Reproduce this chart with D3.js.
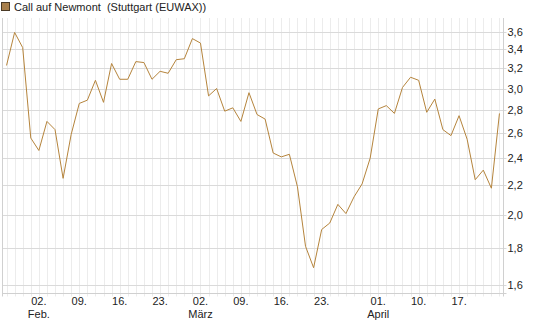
<!DOCTYPE html>
<html>
<head>
<meta charset="utf-8">
<script src="https://cdn.jsdelivr.net/npm/d3@7"></script>
<style>
  body { margin: 0; background: #fff; }
  svg { display: block; font-family: "Liberation Sans", Arial, sans-serif; }
</style>
</head>
<body>
<div id="chart"></div>
<script>
const seriesName = 'Call auf Newmont  (Stuttgart (EUWAX))';

// trading days only (no weekends, no Easter holidays)
const dates = [
    '2026-01-27', '2026-01-28', '2026-01-29', '2026-01-30',
    '2026-02-02', '2026-02-03', '2026-02-04', '2026-02-05', '2026-02-06',
    '2026-02-09', '2026-02-10', '2026-02-11', '2026-02-12', '2026-02-13',
    '2026-02-16', '2026-02-17', '2026-02-18', '2026-02-19', '2026-02-20',
    '2026-02-23', '2026-02-24', '2026-02-25', '2026-02-26', '2026-02-27',
    '2026-03-02', '2026-03-03', '2026-03-04', '2026-03-05', '2026-03-06',
    '2026-03-09', '2026-03-10', '2026-03-11', '2026-03-12', '2026-03-13',
    '2026-03-16', '2026-03-17', '2026-03-18', '2026-03-19', '2026-03-20',
    '2026-03-23', '2026-03-24', '2026-03-25', '2026-03-26', '2026-03-27',
    '2026-03-30', '2026-03-31',
    '2026-04-01', '2026-04-02', '2026-04-07', '2026-04-08', '2026-04-09', '2026-04-10',
    '2026-04-13', '2026-04-14', '2026-04-15', '2026-04-16', '2026-04-17',
    '2026-04-20', '2026-04-21', '2026-04-22', '2026-04-23', '2026-04-24'
];

const prices = [
    3.23, 3.59, 3.42, 2.56,
    2.46, 2.70, 2.63, 2.25, 2.59,
    2.86, 2.89, 3.08, 2.87, 3.25,
    3.09, 3.09, 3.27, 3.26, 3.09,
    3.17, 3.15, 3.29, 3.30, 3.52,
    3.47, 2.93, 3.00, 2.79, 2.82,
    2.70, 2.96, 2.76, 2.72, 2.44,
    2.41, 2.43, 2.19, 1.81, 1.69,
    1.91, 1.95, 2.07, 2.01, 2.12,
    2.21, 2.40,
    2.81, 2.84, 2.77, 3.01, 3.11, 3.08,
    2.78, 2.90, 2.63, 2.58, 2.75,
    2.55, 2.24, 2.31, 2.18, 2.77
];

const yTicks = [1.6, 1.8, 2.0, 2.2, 2.4, 2.6, 2.8, 3.0, 3.2, 3.4, 3.6];
const xTickDates = ['2026-02-02', '2026-02-09', '2026-02-16', '2026-02-23', '2026-03-02', '2026-03-09',
    '2026-03-16', '2026-03-23', '2026-04-01', '2026-04-10', '2026-04-17'];
const monthLabels = { '2026-02-02': 'Feb.', '2026-03-02': 'März', '2026-04-01': 'April' };

function drawChart() {
    const width = 545, height = 327;
    const left = 2.5, right = 503.5, top = 18, bottom = 293.5;

    const svg = d3.select('#chart').append('svg')
        .attr('width', width)
        .attr('height', height);

    const x = d3.scalePoint()
        .domain(dates)
        .range([left, right])
        .padding(0.5);

    const y = d3.scaleLog()
        .domain([1.556, 3.76])
        .range([bottom, top]);

    // vertical grid, one line per trading day
    svg.append('g')
        .selectAll('line')
        .data(dates)
        .enter()
        .append('line')
        .attr('x1', d => Math.round(x(d)) + 0.5)
        .attr('x2', d => Math.round(x(d)) + 0.5)
        .attr('y1', top)
        .attr('y2', bottom + 3)
        .attr('stroke', '#ececec');

    // horizontal grid
    svg.append('g')
        .selectAll('line')
        .data(yTicks)
        .enter()
        .append('line')
        .attr('x1', left)
        .attr('x2', right + 3)
        .attr('y1', d => Math.round(y(d)) + 0.5)
        .attr('y2', d => Math.round(y(d)) + 0.5)
        .attr('stroke', '#dadada');

    // frame
    svg.append('line')
        .attr('x1', left).attr('x2', left)
        .attr('y1', top).attr('y2', bottom + 3)
        .attr('stroke', '#d0d0d0');
    svg.append('line')
        .attr('x1', right).attr('x2', right)
        .attr('y1', top).attr('y2', bottom + 3)
        .attr('stroke', '#d0d0d0');
    svg.append('line')
        .attr('x1', left).attr('x2', right + 3)
        .attr('y1', bottom).attr('y2', bottom)
        .attr('stroke', '#d0d0d0');

    // y labels on the right
    svg.append('g')
        .selectAll('text')
        .data(yTicks)
        .enter()
        .append('text')
        .attr('x', right + 4)
        .attr('y', d => y(d) + 4)
        .attr('font-size', 11)
        .attr('fill', '#222')
        .text(d => d3.format('.1f')(d).replace('.', ','));

    // x labels
    svg.append('g')
        .selectAll('text')
        .data(xTickDates)
        .enter()
        .append('text')
        .attr('x', d => x(d))
        .attr('y', 305)
        .attr('text-anchor', 'middle')
        .attr('font-size', 11)
        .attr('fill', '#222')
        .text(d => d.slice(8) + '.');

    svg.append('g')
        .selectAll('text')
        .data(Object.entries(monthLabels))
        .enter()
        .append('text')
        .attr('x', d => x(d[0]))
        .attr('y', 318)
        .attr('text-anchor', 'middle')
        .attr('font-size', 11)
        .attr('fill', '#222')
        .text(d => d[1]);

    const line = d3.line()
        .x((d, i) => x(dates[i]))
        .y(d => y(d));

    svg.append('path')
        .datum(prices)
        .attr('d', line)
        .attr('fill', 'none')
        .attr('stroke', '#b5843c')
        .attr('stroke-width', 1);

    // legend
    svg.append('rect')
        .attr('x', 1.5).attr('y', 2.5)
        .attr('width', 8).attr('height', 8)
        .attr('fill', '#a87f4b')
        .attr('stroke', '#4a3a26');
    svg.append('text')
        .attr('x', 14)
        .attr('y', 11)
        .attr('font-size', 11)
        .attr('fill', '#222')
        .style('white-space', 'pre')
        .attr('xml:space', 'preserve')
        .text(seriesName);
}

drawChart();
</script>
</body>
</html>
